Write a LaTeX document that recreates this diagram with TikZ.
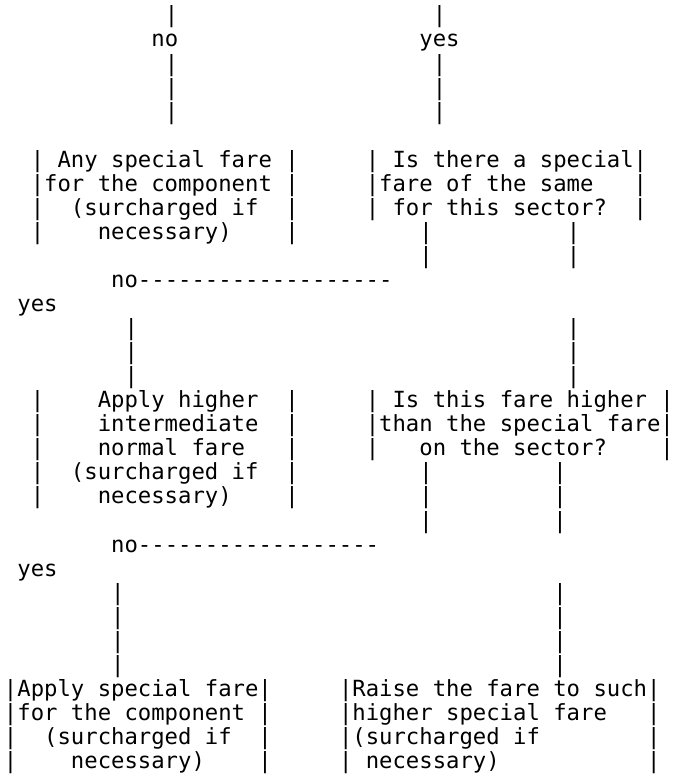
\documentclass[tikz,border=0pt]{standalone}
\usepackage{fontspec}
\setmonofont{DejaVu Sans Mono}
\usepackage{tikz}

\begin{document}
\begin{tikzpicture}[
  x=13.4pt, y=-24.05pt,
  every node/.style={font=\ttfamily\fontsize{22.25pt}{24pt}\selectfont},
  txt/.style={anchor=base west, inner sep=0pt},
  ]
\useasboundingbox (0pt,0pt) rectangle (675pt,-776pt);

\begin{scope}[shift={(3.8pt,1.1pt)}]
% Top branches
\node[txt] (noTop) at (11,2) {no};
\node[txt] (yesTop) at (31,2) {yes};
\foreach \r in {1,3,4,5} {
  \node[txt] (bl\r) at (12,\r) {|};
  \node[txt] (br\r) at (32,\r) {|};
}

% Any special fare / Is there a special fare
\node[txt] (any1) at (2,7) {| Any special fare |};
\node[txt] (any2) at (2,8) {|for the component |};
\node[txt] (any3) at (2,9) {|~~(surcharged if~~|};
\node[txt] (any4) at (2,10) {|~~~~necessary)~~~~|};
\node[txt] (same1) at (27,7) {| Is there a special|};
\node[txt] (same2) at (27,8) {|fare of the same~~~|};
\node[txt] (same3) at (27,9) {| for this sector?~~|};
\foreach \r in {10,11} {
  \node[txt] (sl\r) at (31,\r) {|};
  \node[txt] (sr\r) at (42,\r) {|};
}

% First no / yes
\node[txt] (noA) at (8,12) {no-------------------};
\node[txt] (yesA) at (1,13) {yes};
\foreach \r in {14,15,16} {
  \node[txt] (al\r) at (9,\r) {|};
  \node[txt] (ar\r) at (42,\r) {|};
}

% Apply higher intermediate / Is this fare higher
\node[txt] (high1) at (2,17) {|~~~~Apply higher~~|};
\node[txt] (high2) at (2,18) {|~~~~intermediate~~|};
\node[txt] (high3) at (2,19) {|~~~~normal fare~~~|};
\node[txt] (high4) at (2,20) {|~~(surcharged if~~|};
\node[txt] (high5) at (2,21) {|~~~~necessary)~~~~|};
\node[txt] (cmp1) at (27,17) {| Is this fare higher |};
\node[txt] (cmp2) at (27,18) {|than the special fare|};
\node[txt] (cmp3) at (27,19) {|~~~on the sector?~~~~|};
\foreach \r in {20,21,22} {
  \node[txt] (cl\r) at (31,\r) {|};
  \node[txt] (cr\r) at (41,\r) {|};
}

% Second no / yes
\node[txt] (noB) at (8,23) {no------------------};
\node[txt] (yesB) at (1,24) {yes};
\foreach \r in {25,26,27,28} {
  \node[txt] (dl\r) at (8,\r) {|};
  \node[txt] (dr\r) at (41,\r) {|};
}

% Final boxes
\node[txt] (spec1) at (0,29) {|Apply special fare|};
\node[txt] (spec2) at (0,30) {|for the component |};
\node[txt] (spec3) at (0,31) {|~~(surcharged if~~|};
\node[txt] (spec4) at (0,32) {|~~~~necessary)~~~~|};
\node[txt] (raise1) at (25,29) {|Raise the fare to such|};
\node[txt] (raise2) at (25,30) {|higher special fare~~~|};
\node[txt] (raise3) at (25,31) {|(surcharged if~~~~~~~~|};
\node[txt] (raise4) at (25,32) {| necessary)~~~~~~~~~~~|};
\end{scope}

\end{tikzpicture}
\end{document}
